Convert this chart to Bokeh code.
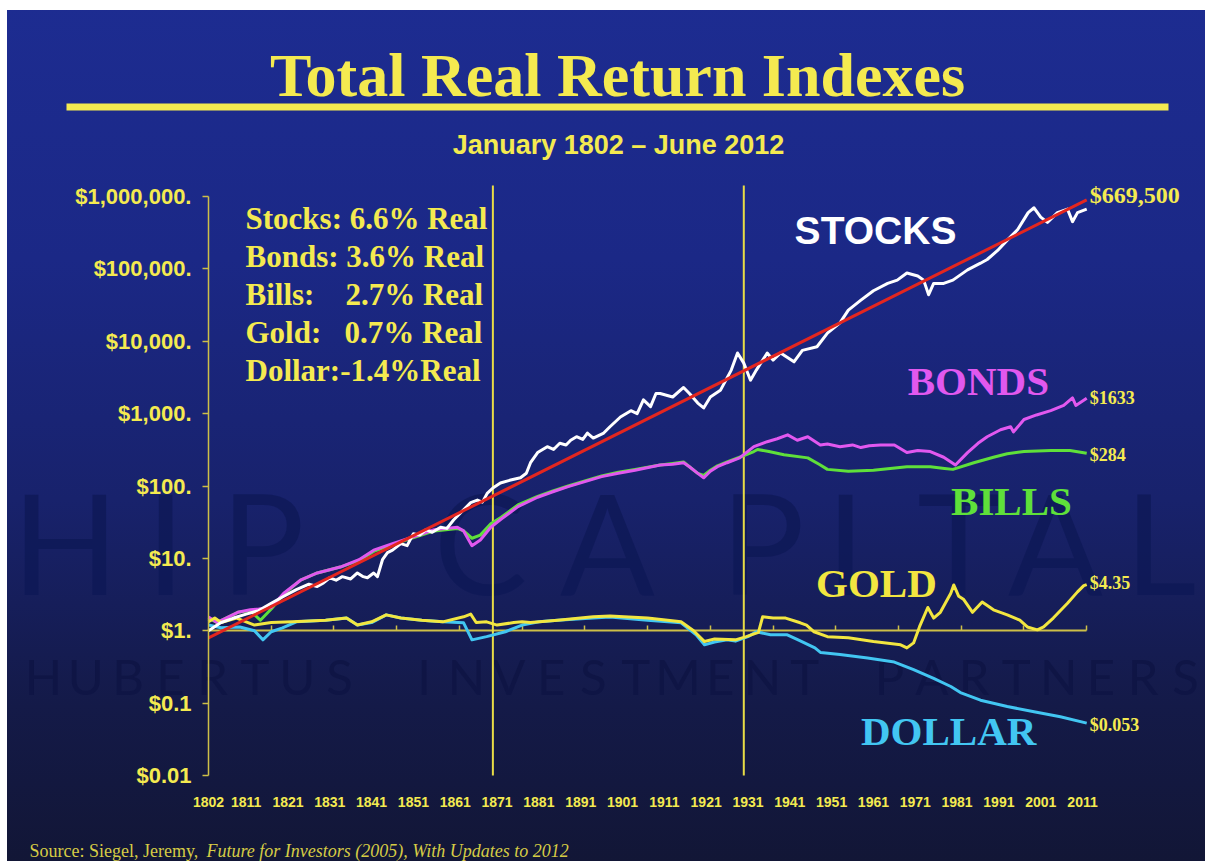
from bokeh.plotting import figure
from bokeh.models import Range1d, FixedTicker, LinearAxis, LogAxis, Label, BoxAnnotation
from bokeh.core.properties import value
from bokeh.embed import file_html
from bokeh.resources import INLINE

# ---------------- data ----------------
stock_years = [1802, 1805, 1808, 1811, 1814, 1817, 1820, 1823, 1826, 1828, 1829.5, 1831, 1832.5, 1834, 1836,
               1837.6, 1839, 1840, 1841.5, 1842.4, 1843.6, 1844.8, 1846, 1848, 1849.5, 1851, 1852.5, 1854,
               1855.5, 1857.5, 1859, 1860.6, 1863, 1864.7, 1866.3, 1867.5, 1868.7, 1870, 1871.8, 1874,
               1876.6, 1878, 1879, 1880.7, 1883, 1884.5, 1886, 1887.5, 1888.6, 1890, 1891.5, 1892.6, 1894,
               1896.5, 1898, 1900.5, 1903, 1904.5, 1906, 1907.7, 1909, 1910, 1913, 1915.6, 1917, 1919,
               1920.4, 1922, 1924.4, 1927, 1928.5, 1930, 1931.6, 1933, 1935.6, 1937, 1938.8, 1942, 1944,
               1947.5, 1950, 1953, 1955, 1958, 1961, 1964.4, 1966.7, 1969, 1971.6, 1973, 1974.2, 1975.4,
               1977.8, 1980, 1983.5, 1986.6, 1988.2, 1990.7, 1993, 1995.5, 1998, 1999.4, 2001, 2002.6,
               2005, 2007.4, 2008.6, 2009.8, 2012]
stock_values = [1.0, 1.3, 1.5, 1.7, 1.9, 2.4, 3.0, 3.7, 4.4, 4.1, 4.6, 5.4, 5.0, 5.6, 5.2,
                6.3, 5.6, 5.4, 6.3, 5.6, 9.6, 12, 13, 16, 15, 22, 21, 25,
                23, 27, 26, 34, 47, 59, 64, 60, 80, 94, 110, 120,
                130, 150, 210, 290, 350, 320, 390, 370, 430, 480, 440, 540, 460,
                540, 660, 900, 1100, 1000, 1550, 1250, 1900, 1900, 1700, 2300, 1900, 1400,
                1200, 1700, 2100, 4000, 6900, 5000, 2900, 4000, 6900, 5500, 6900, 5200, 7500,
                8400, 13000, 18000, 27000, 37000, 50000, 63000, 70000, 88000, 80000, 70000, 44000, 63000,
                63000, 70000, 97000, 120000, 135000, 180000, 250000, 350000, 600000, 700000, 520000, 440000,
                600000, 670000, 450000, 600000, 669500]

bond_years = [1802, 1804, 1809, 1812, 1814, 1817, 1820, 1824, 1828, 1833.5, 1838, 1841.5, 1846, 1850,
              1856, 1861.5, 1863, 1865, 1867, 1869.5, 1872, 1876, 1880.7, 1884, 1888, 1892, 1896, 1900,
              1904, 1910, 1913, 1915.6, 1917, 1919, 1920.4, 1922, 1923.7, 1926, 1929, 1932.4, 1935.6,
              1938, 1940.5, 1942.8, 1945.3, 1948.3, 1950, 1953, 1956, 1958, 1960, 1962.7, 1966, 1969,
              1971.6, 1974.6, 1977.8, 1980.6, 1983.5, 1986, 1988.2, 1991.4, 1993.8, 1994.5, 1997, 2000,
              2003.4, 2006.5, 2008.6, 2009.4, 2012]
bond_values = [1.55, 1.3, 1.8, 1.95, 2.0, 2.1, 3.3, 5.0, 6.3, 7.6, 9.6, 13, 16, 19,
               25, 27, 24, 15, 18, 27, 35, 52, 70, 82, 98, 115, 135, 150,
               165, 195, 200, 210, 185, 150, 130, 160, 185, 210, 245, 350, 410,
               450, 510, 430, 480, 370, 380, 350, 370, 340, 360, 370, 370, 290,
               310, 300, 250, 195, 290, 390, 480, 600, 660, 560, 830, 960,
               1100, 1300, 1650, 1300, 1633]

bill_years = [1802, 1804, 1809, 1812, 1814.4, 1817, 1820, 1824, 1828, 1833.5, 1838, 1841.5, 1846, 1850,
              1856, 1861.5, 1863, 1865, 1867, 1869.5, 1872, 1876, 1880.7, 1884, 1888, 1892, 1896, 1900,
              1904, 1910, 1913, 1915.6, 1917, 1919, 1920.4, 1922, 1923.7, 1926, 1929, 1932.4, 1933.3,
              1936, 1939.6, 1945.3, 1948, 1950, 1955, 1961, 1965, 1969, 1974.6, 1978, 1980, 1985,
              1989.7, 1993, 1997, 2003.4, 2008, 2012]
bill_values = [1.5, 1.3, 1.8, 1.9, 1.4, 2.0, 3.2, 5.0, 6.3, 7.6, 9.4, 12.5, 15.5, 18.5,
               24, 26, 24, 19, 21, 30, 37, 55, 72, 84, 100, 118, 138, 155,
               170, 195, 205, 215, 185, 150, 140, 165, 190, 215, 250, 300, 320,
               300, 270, 245, 200, 170, 160, 165, 175, 185, 185, 175, 170, 210,
               250, 280, 300, 310, 310, 284]

gold_years = [1802, 1803.5, 1805, 1808.7, 1813, 1817, 1822, 1830, 1835, 1837.6, 1841, 1844.5, 1848, 1853,
              1858, 1863, 1864.7, 1866, 1868.5, 1871, 1875, 1877, 1879, 1885.5, 1894, 1898, 1907, 1915,
              1918, 1920.6, 1923, 1928, 1930.6, 1933.5, 1934.5, 1937, 1940, 1943.5, 1945, 1946.8, 1950,
              1955, 1961, 1967.5, 1969, 1970.6, 1972, 1974, 1975.4, 1977, 1979.5, 1980.2, 1981.4, 1982.6,
              1984.7, 1987, 1989.7, 1993, 1996, 1997.8, 2000.2, 2001.7, 2004, 2007.4, 2009.8, 2011.3, 2012]
gold_values = [1.33, 1.5, 1.3, 1.5, 1.2, 1.3, 1.33, 1.4, 1.5, 1.2, 1.33, 1.66, 1.5, 1.4,
               1.33, 1.56, 1.7, 1.3, 1.33, 1.2, 1.3, 1.33, 1.3, 1.4, 1.56, 1.6, 1.5, 1.33,
               1.0, 0.71, 0.77, 0.75, 0.83, 0.95, 1.56, 1.5, 1.5, 1.29, 1.2, 0.97, 0.83,
               0.8, 0.71, 0.64, 0.58, 0.68, 1.13, 2.1, 1.5, 1.8, 3.3, 4.3, 3.0, 2.7,
               1.8, 2.5, 1.95, 1.66, 1.4, 1.13, 1.03, 1.13, 1.5, 2.4, 3.45, 4.2, 4.35]

dollar_years = [1802, 1805, 1809.5, 1813, 1815, 1817, 1819.7, 1823, 1830, 1835, 1837.6, 1841, 1844.5, 1848,
                1853, 1858, 1863, 1865, 1868.5, 1873, 1877, 1881, 1885.5, 1894, 1898, 1907, 1915, 1918.6,
                1920.6, 1923, 1926, 1928, 1931, 1933, 1936.4, 1940.4, 1943, 1947, 1948.4, 1953, 1959.6,
                1966, 1970.6, 1975.4, 1979.5, 1981.8, 1986.6, 1993, 1999.4, 2005.7, 2012]
dollar_values = [1.2, 1.1, 1.13, 1.0, 0.75, 0.97, 1.1, 1.33, 1.4, 1.5, 1.2, 1.3, 1.66, 1.5,
                 1.4, 1.33, 1.29, 0.75, 0.83, 0.97, 1.2, 1.33, 1.4, 1.5, 1.55, 1.4, 1.29, 0.88,
                 0.64, 0.7, 0.75, 0.72, 0.83, 0.97, 0.88, 0.88, 0.75, 0.58, 0.5, 0.47, 0.42,
                 0.37, 0.29, 0.22, 0.17, 0.14, 0.11, 0.09, 0.076, 0.065, 0.053]

trend_years = [1802, 2012]
trend_values = [0.8, 900000]

era_breaks = [1870, 1930]

year_ticks = [1802, 1811, 1821, 1831, 1841, 1851, 1861, 1871, 1881, 1891, 1901, 1911, 1921, 1931,
              1941, 1951, 1961, 1971, 1981, 1991, 2001, 2011]
year_labels = [str(y) for y in year_ticks]
one_axis_ticks = [1817, 1832, 1847, 1862, 1877, 1892, 1907, 1922, 1937, 1952, 1967, 1982, 1997, 2012]
y_ticks = [0.01, 0.1, 1, 10, 100, 1000, 10000, 100000, 1000000]
y_labels = ["$0.01", "$0.1", "$1.", "$10.", "$100.", "$1,000.", "$10,000.", "$100,000.", "$1,000,000."]

summary_lines = ["Stocks: 6.6% Real", "Bonds: 3.6% Real", "Bills:\u00a0\u00a0\u00a0\u00a02.7% Real",
                 "Gold:\u00a0\u00a0 0.7% Real", "Dollar:-1.4%Real"]
end_labels = ["$669,500", "$1633", "$284", "$4.35", "$0.053"]

# ---------------- layout: the frame covers the whole canvas ----------------
W, H = 1205, 861
X0_PX, PX_PER_YEAR = 208.0, 4.182          # pixel of 1802 and pixels per year
Y1_PX, PX_PER_DECADE = 630.3, 72.375       # pixel of $1 and pixels per decade
x_start = 1802 - X0_PX / PX_PER_YEAR
x_end = 1802 + (W - X0_PX) / PX_PER_YEAR
y_top = 10 ** (Y1_PX / PX_PER_DECADE)
y_bot = 10 ** (-(H - Y1_PX) / PX_PER_DECADE)
plot_top = 1.42e6

YEL = "#f4ea50"
AXC = "#cdbf48"
C_STK, C_TRD, C_BND, C_BIL, C_GLD, C_DOL = "#ffffff", "#e3261f", "#e158ef", "#5fe03a", "#f2e640", "#42c6f2"

p = figure(width=W, height=H, x_range=Range1d(x_start, x_end), y_range=Range1d(y_bot, y_top),
           y_axis_type="log", x_axis_location=None, y_axis_location=None,
           output_backend="svg", toolbar_location=None, min_border=0)
p.title.visible = False
p.styles = {"background": ("linear-gradient(#ffffff,#ffffff) 0 0/100% 10px no-repeat, "
                           "linear-gradient(#ffffff,#ffffff) 0 0/7px 100% no-repeat, "
                           "linear-gradient(180deg, #1d2c91 0%, #1b2886 30%, #18226c 58%, #141a48 82%, #121636 100%)")}
p.background_fill_color = None
p.border_fill_color = None
p.outline_line_color = None
p.grid.visible = False

# y axis
ya = LogAxis(fixed_location=1802, ticker=FixedTicker(ticks=y_ticks), bounds=(0.01, 1000000),
             major_label_overrides={t: l for t, l in zip(y_ticks, y_labels)},
             axis_line_color=AXC, axis_line_width=1.5, major_tick_line_color=AXC, major_tick_line_width=1.5,
             major_tick_out=6, major_tick_in=0, minor_tick_line_color=None, major_label_standoff=11,
             major_label_text_font="Liberation Sans", major_label_text_font_style="bold",
             major_label_text_font_size="22px", major_label_text_color=YEL)
p.add_layout(ya, "left")

# bottom year labels
xa = LinearAxis(fixed_location=0.01, ticker=FixedTicker(ticks=year_ticks),
                major_label_overrides={t: l for t, l in zip(year_ticks, year_labels)},
                axis_line_color=None, major_tick_line_color=None, minor_tick_line_color=None,
                major_label_standoff=15, major_label_text_font="Liberation Sans",
                major_label_text_font_style="bold", major_label_text_font_size="14px",
                major_label_text_color=YEL)
p.add_layout(xa, "below")

# axis line through $1
one_axis = LinearAxis(fixed_location=1, ticker=FixedTicker(ticks=one_axis_ticks), bounds=(1802, 2012),
                      axis_line_color=AXC, axis_line_width=2, major_tick_in=5, major_tick_out=0,
                      major_tick_line_color=AXC, major_tick_line_width=1.5, minor_tick_line_color=None,
                      major_label_overrides={t: "" for t in one_axis_ticks}, level="underlay")
p.add_layout(one_axis, "below")

# era separators
p.segment(x0=era_breaks, y0=[0.01] * len(era_breaks), x1=era_breaks, y1=[plot_top] * len(era_breaks),
          line_color="#e8dc46", line_width=2)

# watermark
for ch, cx in [("H", 65), ("I", 165), ("P", 262), ("C", 480), ("A", 607), ("P", 762), ("I", 845),
               ("T", 958), ("A", 1055), ("L", 1160)]:
    p.add_layout(Label(x=cx, y=540, x_units="canvas", y_units="canvas", text=ch, text_align="center",
                       text_baseline="alphabetic", text_font="Lato", text_font_size="140px",
                       text_color="#0e1856", text_alpha=0.75, level="image"))
wm2 = "HUBERTUS INVESTMENT PARTNERS"
pitch = (1185 - 43) / (len(wm2) - 1)
for i, ch in enumerate(wm2):
    if ch == " ":
        continue
    p.add_layout(Label(x=43 + i * pitch, y=675, x_units="canvas", y_units="canvas", text=ch,
                       text_align="center", text_baseline="alphabetic", text_font="Lato",
                       text_font_size="49px", text_color="#0e1444", text_alpha=0.8, level="image"))

# series
lw = 3
p.line(bill_years, bill_values, line_color=C_BIL, line_width=lw, line_join="round")
p.line(bond_years, bond_values, line_color=C_BND, line_width=lw, line_join="round")
p.line(dollar_years, dollar_values, line_color=C_DOL, line_width=lw, line_join="round")
p.line(gold_years, gold_values, line_color=C_GLD, line_width=lw, line_join="round")
p.line(stock_years, stock_values, line_color=C_STK, line_width=lw, line_join="round")
p.line(trend_years, trend_values, line_color=C_TRD, line_width=3)

# series names
serif = value("Liberation Serif")
p.text(x=[1961.5], y=[335000], text=["STOCKS"], text_align="center", text_baseline="middle",
       text_font=value("Liberation Sans"), text_font_style="bold", text_font_size="39px", text_color=C_STK)
for name, xx, yy, col in [("BONDS", 1986.1, 2840, C_BND), ("BILLS", 1994.0, 62.5, C_BIL),
                          ("GOLD", 1961.7, 4.6, C_GLD), ("DOLLAR", 1979.0, 0.0416, C_DOL)]:
    p.text(x=[xx], y=[yy], text=[name], text_align="center", text_baseline="middle", text_font=serif,
           text_font_style="bold", text_font_size="41px", text_color=col)

# end values
ends = [(trend_years[-1], trend_values[-1], -5, "24px"), (bond_years[-1], bond_values[-1], 0, "18px"),
        (bill_years[-1], bill_values[-1], 2, "18px"), (gold_years[-1], gold_values[-1], -2, "18px"),
        (dollar_years[-1], dollar_values[-1], 2, "18px")]
for lab, (ex, ey, yo, fs) in zip(end_labels, ends):
    p.text(x=[ex], y=[ey], text=[lab], x_offset=3, y_offset=yo, text_align="left", text_baseline="middle",
           text_font=serif, text_font_style="bold", text_font_size=fs, text_color=YEL)

# summary box text
for i, line in enumerate(summary_lines):
    p.add_layout(Label(x=245, y=218 + 38 * i, x_units="canvas", y_units="canvas", text=line,
                       text_align="left", text_baseline="alphabetic", text_font="Liberation Serif",
                       text_font_style="bold", text_font_size="31px", text_color=YEL))

# title block
p.add_layout(Label(x=617, y=74, x_units="canvas", y_units="canvas", text="Total Real Return Indexes",
                   text_align="center", text_baseline="alphabetic", text_font="Liberation Serif",
                   text_font_style="bold", text_font_size="62px", text_color=YEL))
p.add_layout(BoxAnnotation(left=66, right=1168, top=103, bottom=110, left_units="canvas",
                           right_units="canvas", top_units="canvas", bottom_units="canvas",
                           fill_color=YEL, fill_alpha=1, line_color=None))
p.add_layout(Label(x=618, y=144, x_units="canvas", y_units="canvas", text="January 1802 \u2013 June 2012",
                   text_align="center", text_baseline="alphabetic", text_font="Liberation Sans",
                   text_font_style="bold", text_font_size="27px", text_color=YEL))

# source
p.add_layout(Label(x=29, y=850, x_units="canvas", y_units="canvas", text="Source: Siegel, Jeremy,",
                   text_align="left", text_baseline="alphabetic", text_font="Liberation Serif",
                   text_font_size="18px", text_color="#d6cc45"))
p.add_layout(Label(x=206, y=850, x_units="canvas", y_units="canvas",
                   text="Future for Investors (2005), With Updates to 2012",
                   text_align="left", text_baseline="alphabetic", text_font="Liberation Serif",
                   text_font_style="italic", text_font_size="18px", text_color="#d6cc45"))

open("out.html", "w").write(file_html(p, INLINE))
